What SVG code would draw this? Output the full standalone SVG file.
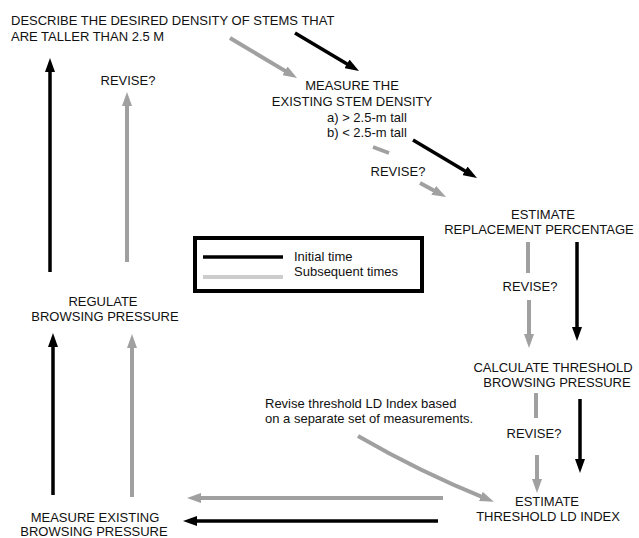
<svg xmlns="http://www.w3.org/2000/svg" width="639" height="538" viewBox="0 0 639 538">
<defs>
<style>
text{font-family:"Liberation Sans",Arial,sans-serif;font-size:13px;fill:#111}
.c{text-anchor:middle}
.k{stroke:#000;stroke-width:3.5;fill:none}
.g{stroke:#a0a0a0;stroke-width:4;fill:none}
.ka{marker-end:url(#mk)}
.ga{marker-end:url(#mg)}
</style>
<marker id="mk" markerUnits="userSpaceOnUse" markerWidth="14" markerHeight="10" refX="5" refY="5" orient="auto"><path d="M0,0 L14,5 L0,10 z" fill="#000"/></marker>
<marker id="mg" markerUnits="userSpaceOnUse" markerWidth="14" markerHeight="10" refX="5" refY="5" orient="auto"><path d="M0,0 L14,5 L0,10 z" fill="#a0a0a0"/></marker>
</defs>
<rect width="639" height="538" fill="#fff"/>
<g id="connectors">
<path class="k ka" d="M50,272 L50,67"/>
<path class="k ka" d="M295,33 L351.3,66.4"/>
<path class="k ka" d="M413,140 L469.3,173.4"/>
<path class="k ka" d="M577,242 L577,332"/>
<path class="k ka" d="M580,399 L580,464"/>
<path class="k ka" d="M438,521 L192,521"/>
<path class="k ka" d="M53,495 L53,342"/>
<path class="g ga" d="M127,262 L127,101"/>
<path class="g ga" d="M230,38 L289.3,73.4"/>
<path class="g" d="M373,147 L389,153"/>
<path class="g ga" d="M420,183 L438.1,192.7"/>
<path class="g" d="M528,242 L528,273"/>
<path class="g ga" d="M529,300 L529,339"/>
<path class="g" d="M536,393 L536,418"/>
<path class="g ga" d="M537,455 L537,484"/>
<path class="g ga" d="M358,436 Q420,472 485.5,498.3"/>
<path class="g ga" d="M443,498 L196,498"/>
<path class="g ga" d="M132,497 L132,343"/>
</g>
<g id="describe"><text x="11" y="25">DESCRIBE THE DESIRED DENSITY OF STEMS THAT</text><text x="11" y="41">ARE TALLER THAN 2.5 M</text></g>
<g id="revise1"><text class="c" x="128" y="85">REVISE?</text></g>
<g id="measure-stem"><text class="c" x="352" y="90">MEASURE THE</text><text class="c" x="352" y="106">EXISTING STEM DENSITY</text><text x="327" y="122">a) &gt; 2.5-m tall</text><text x="327" y="137">b) &lt; 2.5-m tall</text></g>
<g id="revise2"><text class="c" x="398" y="176">REVISE?</text></g>
<g id="estimate-replacement"><text class="c" x="543" y="219">ESTIMATE</text><text class="c" x="539" y="234">REPLACEMENT PERCENTAGE</text></g>
<g id="revise3"><text class="c" x="530" y="291">REVISE?</text></g>
<g id="calculate"><text class="c" x="553" y="372">CALCULATE THRESHOLD</text><text class="c" x="557" y="387">BROWSING PRESSURE</text></g>
<g id="revise4"><text class="c" x="534" y="438">REVISE?</text></g>
<g id="revise-note"><text x="265" y="408">Revise threshold LD Index based</text><text x="265" y="423">on a separate set of measurements.</text></g>
<g id="estimate-ld"><text class="c" x="547" y="506">ESTIMATE</text><text class="c" x="548" y="521">THRESHOLD LD INDEX</text></g>
<g id="regulate"><text class="c" x="103" y="306">REGULATE</text><text class="c" x="105" y="321">BROWSING PRESSURE</text></g>
<g id="measure-browsing"><text class="c" x="95" y="522">MEASURE EXISTING</text><text class="c" x="94" y="536">BROWSING PRESSURE</text></g>
<g id="legend">
<rect x="195" y="238" width="227" height="53" fill="none" stroke="#000" stroke-width="4"/>
<line x1="203" y1="257" x2="283" y2="257" stroke="#000" stroke-width="3.5"/>
<line x1="203" y1="277" x2="283" y2="277" stroke="#cccccc" stroke-width="4"/>
<text x="294" y="261">Initial time</text>
<text x="294" y="276">Subsequent times</text>
</g>
</svg>
